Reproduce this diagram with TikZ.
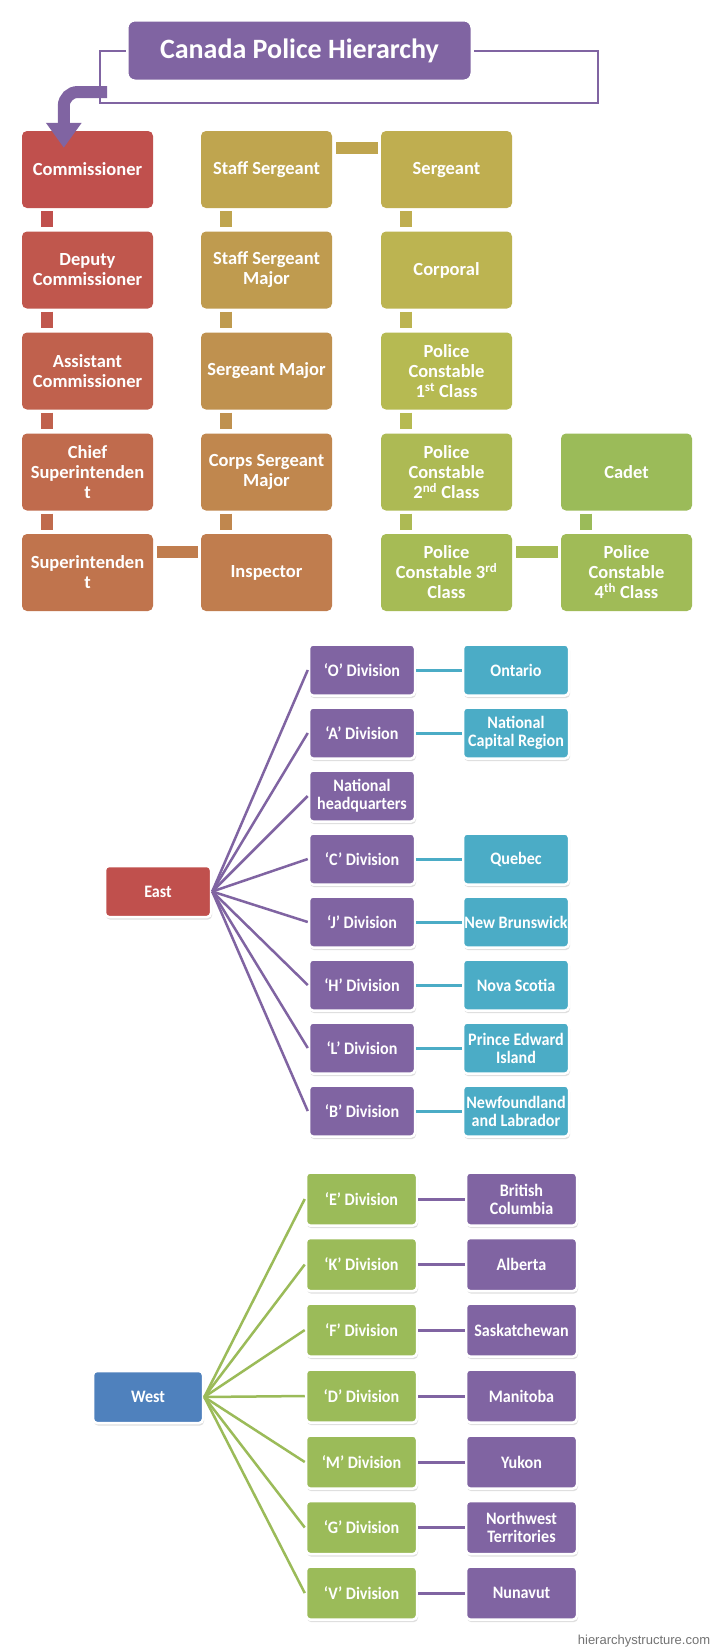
\documentclass[tikz,border=0pt]{standalone}
\usepackage{fontspec}
\newfontfamily\topfont{Carlito}
\newfontfamily\lowfont{Carlito}[FakeStretch=0.92]
\newfontfamily\markfont{Liberation Sans}
\usetikzlibrary{arrows.meta,shadows}

% box colours, red through to green
\definecolor{hpurple}{HTML}{8064A2}
\definecolor{hteal}{HTML}{4BACC6}
\definecolor{hgreen}{HTML}{9BBB59}
\definecolor{hblue}{HTML}{4F81BD}
\definecolor{r1}{HTML}{C0504D}
\definecolor{r2}{HTML}{C0574D}
\definecolor{r3}{HTML}{C0614D}
\definecolor{r4}{HTML}{C06B4D}
\definecolor{r5}{HTML}{C0744D}
\definecolor{r6}{HTML}{C07D4E}
\definecolor{r7}{HTML}{C0874E}
\definecolor{r8}{HTML}{BF914F}
\definecolor{r9}{HTML}{BF9B4F}
\definecolor{r10}{HTML}{BFA54F}
\definecolor{r11}{HTML}{BFAE50}
\definecolor{r12}{HTML}{BCB451}
\definecolor{r13}{HTML}{B6BA52}
\definecolor{r14}{HTML}{ADBA54}
\definecolor{r15}{HTML}{A6BB55}
\definecolor{r16}{HTML}{A0BB57}
\definecolor{r17}{HTML}{9BBB59}

\begin{document}
\begin{tikzpicture}[x=1pt, y=-1pt,
    rank/.style={rounded corners=5pt, minimum width=131pt, minimum height=77pt, inner sep=0pt,
        text=white, align=center, font=\topfont\bfseries\fontsize{18.5}{20}\selectfont},
    vlink/.style={line width=12pt, shorten <=3pt, shorten >=4pt},
    hlink/.style={line width=12pt, shorten <=4pt, shorten >=3pt},
    unit/.style={rounded corners=4pt, draw=white, line width=2.5pt, inner sep=0pt, text=white,
        align=center, font=\lowfont\bfseries\fontsize{17.5}{18}\selectfont,
        drop shadow={shadow xshift=1pt, shadow yshift=-2.5pt, opacity=0.25}},
    eunit/.style={unit, minimum width=106pt, minimum height=51pt},
    wunit/.style={unit, minimum width=111pt, minimum height=53pt},
    fan/.style={line width=2.5pt},
    tie/.style={line width=3pt}]
    \fill[white] (0,0) rectangle (712,1650);
    \useasboundingbox (0,0) rectangle (712,1650);

    % Title and its frame
    \node[fill=hpurple, draw=white, line width=3pt, rounded corners=8pt, minimum width=345pt,
        minimum height=61pt, text=white, font=\topfont\bfseries\fontsize{28}{32}\selectfont]
        (title) at (299.5,50.5) {Canada Police Hierarchy};
    \coordinate (fl) at (100,103);
    \coordinate (fr) at (598,103);
    \draw[hpurple, line width=2pt] (title.west) -| (fl) -- (fr) |- (title.east);

    % Commissioned ranks
    \node[rank, fill=r1] (comm) at (87.5,169.5) {Commissioner};
    \node[rank, fill=r2] (dcomm) at (87.5,270) {Deputy\\Commissioner};
    \node[rank, fill=r3] (acomm) at (87.5,371) {Assistant\\Commissioner};
    \node[rank, fill=r4] (chsup) at (87.5,472) {Chief\\Superintenden\\t};
    \node[rank, fill=r5] (sup) at (87.5,572.5) {Superintenden\\t};

    % Senior NCOs
    \node[rank, fill=r10] (ss) at (266.5,169.5) {Staff Sergeant};
    \node[rank, fill=r9] (ssm) at (266.5,270) {Staff Sergeant\\Major};
    \node[rank, fill=r8] (sm) at (266.5,371) {Sergeant Major};
    \node[rank, fill=r7] (csm) at (266.5,472) {Corps Sergeant\\Major};
    \node[rank, fill=r6] (insp) at (266.5,572.5) {Inspector};

    % Junior ranks
    \node[rank, fill=r11] (sgt) at (446.5,169.5) {Sergeant};
    \node[rank, fill=r12] (cpl) at (446.5,270) {Corporal};
    \node[rank, fill=r13] (pc1) at (446.5,371) {Police\\Constable\\1\textsuperscript{st} Class};
    \node[rank, fill=r14] (pc2) at (446.5,472) {Police\\Constable\\2\textsuperscript{nd} Class};
    \node[rank, fill=r15] (pc3) at (446.5,572.5) {Police\\Constable 3\textsuperscript{rd}\\Class};
    \node[rank, fill=r17] (cadet) at (626.5,472) {Cadet};
    \node[rank, fill=r16] (pc4) at (626.5,572.5) {Police\\Constable\\4\textsuperscript{th} Class};

    % Links between the ranks
    \foreach \a/\b/\c in {comm/dcomm/r1, dcomm/acomm/r2, acomm/chsup/r3, chsup/sup/r4,
        ss/ssm/r10, ssm/sm/r9, sm/csm/r8, csm/insp/r7,
        sgt/cpl/r11, cpl/pc1/r12, pc1/pc2/r13, pc2/pc3/r14, cadet/pc4/r17}
    {
        \draw[vlink, \c] ([xshift=25pt]\a.south west) -- ([xshift=25pt]\b.north west);
    }
    \draw[hlink, r10] ([yshift=-17pt]ss.north east) -- ([yshift=-17pt]sgt.north west);
    \draw[hlink, r6] ([yshift=-18pt]sup.north east) -- ([yshift=-18pt]insp.north west);
    \draw[hlink, r15] ([yshift=-18pt]pc3.north east) -- ([yshift=-18pt]pc4.north west);

    % Bent arrow from the frame down to the top rank
    \coordinate (arrstart) at (107,92);
    \draw[hpurple, line width=12pt, rounded corners=14pt, -{Triangle[width=34pt,length=25pt]}]
        (arrstart) -| ([xshift=42pt,yshift=-17pt]comm.north west);

        % East divisions
        \node[eunit, fill=r1] (east) at (158,891.5) {East};
        \node[eunit, fill=hpurple] (eo) at (362,670) {‘O’ Division};
        \node[eunit, fill=hpurple] (ea) at (362,733) {‘A’ Division};
        \node[eunit, fill=hpurple] (ehq) at (362,796) {National\\headquarters};
        \node[eunit, fill=hpurple] (ec) at (362,859) {‘C’ Division};
        \node[eunit, fill=hpurple] (ej) at (362,922) {‘J’ Division};
        \node[eunit, fill=hpurple] (eh) at (362,985) {‘H’ Division};
        \node[eunit, fill=hpurple] (el) at (362,1048) {‘L’ Division};
        \node[eunit, fill=hpurple] (eb) at (362,1111) {‘B’ Division};

        \node[eunit, fill=hteal] (ront) at (516,670) {Ontario};
        \node[eunit, fill=hteal] (rncr) at (516,733) {National\\Capital Region};
        \node[eunit, fill=hteal] (rque) at (516,859) {Quebec};
        \node[eunit, fill=hteal] (rnb) at (516,922) {New Brunswick};
        \node[eunit, fill=hteal] (rns) at (516,985) {Nova Scotia};
        \node[eunit, fill=hteal] (rpei) at (516,1048) {Prince Edward\\Island};
        \node[eunit, fill=hteal] (rnl) at (516,1111) {Newfoundland\\and Labrador};

        \foreach \d in {eo, ea, ehq, ec, ej, eh, el, eb}
        {
            \draw[fan, hpurple] (east.east) -- (\d.west);
        }
        \foreach \d/\r in {eo/ront, ea/rncr, ec/rque, ej/rnb, eh/rns, el/rpei, eb/rnl}
        {
            \draw[tie, hteal] (\d.east) -- (\r.west);
        }

        % West divisions
        \node[wunit, fill=hblue, minimum width=110pt, minimum height=52pt] (west) at (148,1397) {West};
        \node[wunit, fill=hgreen] (we) at (361.5,1199) {‘E’ Division};
        \node[wunit, fill=hgreen] (wk) at (361.5,1264.5) {‘K’ Division};
        \node[wunit, fill=hgreen] (wf) at (361.5,1330) {‘F’ Division};
        \node[wunit, fill=hgreen] (wd) at (361.5,1396) {‘D’ Division};
        \node[wunit, fill=hgreen] (wm) at (361.5,1462) {‘M’ Division};
        \node[wunit, fill=hgreen] (wg) at (361.5,1527.5) {‘G’ Division};
        \node[wunit, fill=hgreen] (wv) at (361.5,1593) {‘V’ Division};

        \node[wunit, fill=hpurple] (rbc) at (521.5,1199) {British\\Columbia};
        \node[wunit, fill=hpurple] (rab) at (521.5,1264.5) {Alberta};
        \node[wunit, fill=hpurple] (rsk) at (521.5,1330) {Saskatchewan};
        \node[wunit, fill=hpurple] (rmb) at (521.5,1396) {Manitoba};
        \node[wunit, fill=hpurple] (ryt) at (521.5,1462) {Yukon};
        \node[wunit, fill=hpurple] (rnt) at (521.5,1527.5) {Northwest\\Territories};
        \node[wunit, fill=hpurple] (rnu) at (521.5,1593) {Nunavut};

        \foreach \d in {we, wk, wf, wd, wm, wg, wv}
        {
            \draw[fan, hgreen] (west.east) -- (\d.west);
        }
        \foreach \d/\r in {we/rbc, wk/rab, wf/rsk, wd/rmb, wm/ryt, wg/rnt, wv/rnu}
        {
            \draw[tie, hpurple] (\d.east) -- (\r.west);
        }

    \node[text=black!55, font=\markfont\fontsize{13}{15}\selectfont] (site) at (644,1641) {hierarchystructure.com};
\end{tikzpicture}
\end{document}
